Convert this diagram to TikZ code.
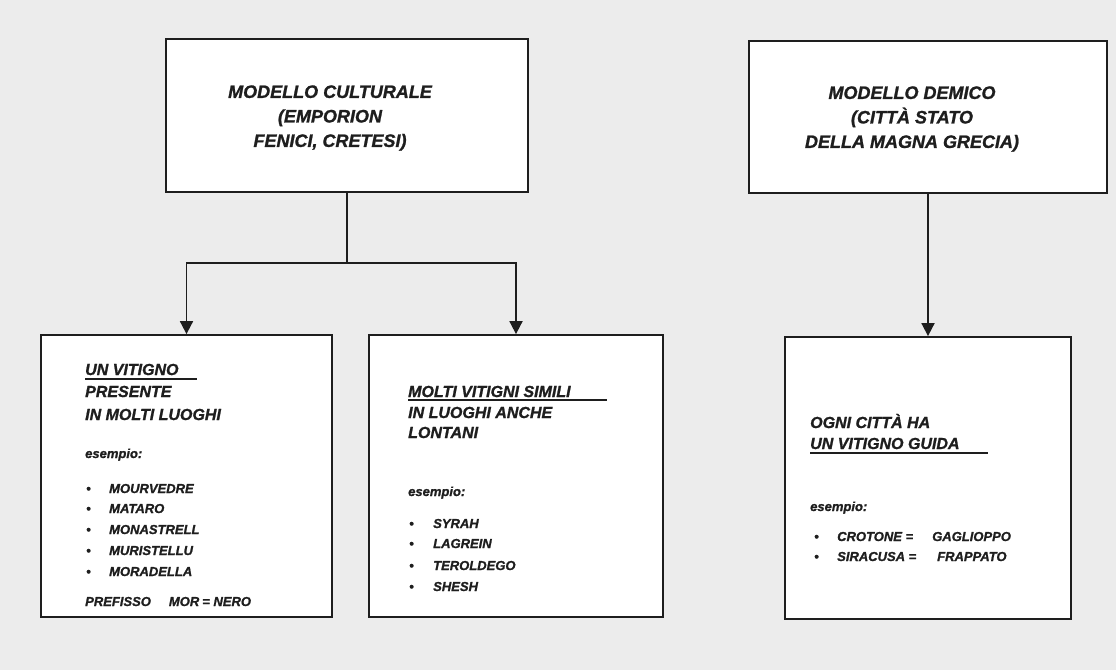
\documentclass[tikz,border=0pt]{standalone}
\usepackage{fontspec}
\setmainfont{Liberation Sans}
\newfontfamily\bifont{Liberation Sans}[UprightFont={* Bold Italic},FakeBold=1.2]
\usetikzlibrary{arrows.meta}
\definecolor{bg}{RGB}{236,236,236}
\definecolor{ink}{RGB}{30,30,30}
\begin{document}
\begin{tikzpicture}[x=1pt,y=-1pt,
 box/.style={draw=ink,line width=1.8pt,fill=white,inner sep=0pt},
 conn/.style={draw=ink,line width=1.8pt},
 arr/.style={conn,-{Triangle[width=13pt,length=13pt]}},
 ttl/.style={font=\bifont\fontsize{18}{24.5}\selectfont,align=center,text=ink,inner sep=0pt},
 hd/.style={font=\bifont\fontsize{16}{19}\selectfont,anchor=base west,inner sep=0pt,text=ink},
 ex/.style={font=\bifont\fontsize{13}{15}\selectfont,anchor=base west,inner sep=0pt,text=ink},
 bul/.style={font=\bifont\fontsize{13}{15}\selectfont,anchor=base west,inner sep=0pt,text=ink},
 ul/.style={draw=ink,line width=1.3pt}]
\fill[bg] (0,0) rectangle (1116,670);
\useasboundingbox (0,0) rectangle (1116,670);

% boxes
\node[box,minimum width=362pt,minimum height=153pt] (b1) at (347,115.5) {};
\node[box,minimum width=358pt,minimum height=152pt] (b2) at (928,117) {};
\node[box,minimum width=291pt,minimum height=282pt] (b3) at (186.5,476) {};
\node[box,minimum width=294pt,minimum height=282pt] (b4) at (516,476) {};
\node[box,minimum width=286pt,minimum height=282pt] (b5) at (928,478) {};

% titles
\node[ttl] (t1) at (330,118) {MODELLO CULTURALE\\(EMPORION\\FENICI, CRETESI)};
\node[ttl] (t2) at (912,119) {MODELLO DEMICO\\(CITTÀ STATO\\DELLA MAGNA GRECIA)};

% connectors
\coordinate (j1) at (347,263);
\draw[conn] (b1.south) -- (j1);
\draw[arr] (j1) -| (b3.north);
\draw[arr] (j1) -| (b4.north);
\draw[arr] (b2.south) -- (b5.north);

% box 3
\node[hd] (h31) at (85,375) {UN VITIGNO};
\draw[ul] (85,379) -- (197,379);
\node[hd] (h32) at (85,397) {PRESENTE};
\node[hd] (h33) at (85,420) {IN MOLTI LUOGHI};
\node[ex] (e3) at (85,458) {esempio:};
\foreach \t/\y [count=\i] in {MOURVEDRE/493,MATARO/513,MONASTRELL/534,MURISTELLU/555,MORADELLA/576}{
  \node[bul] (bu3\i) at (86,\y) {•};
  \node[ex] (i3\i) at (109,\y) {\t};
}
\node[ex] (p3) at (85,606) {PREFISSO\hspace{18pt}MOR\hspace{3pt}= NERO};

% box 4
\node[hd] (h41) at (408,397) {MOLTI VITIGNI SIMILI};
\draw[ul] (408,400) -- (607,400);
\node[hd] (h42) at (408,418) {IN LUOGHI ANCHE};
\node[hd] (h43) at (408,438) {LONTANI};
\node[ex] (e4) at (408,496) {esempio:};
\foreach \t/\y [count=\i] in {SYRAH/528,LAGREIN/548,TEROLDEGO/570,SHESH/591}{
  \node[bul] (bu4\i) at (409,\y) {•};
  \node[ex] (i4\i) at (433,\y) {\t};
}

% box 5
\node[hd] (h51) at (810,428) {OGNI CITTÀ HA};
\node[hd] (h52) at (810,449) {UN VITIGNO GUIDA};
\draw[ul] (810,453) -- (988,453);
\node[ex] (e5) at (810,511) {esempio:};
\node[bul] (bu51) at (814,541) {•};
\node[ex] (i51) at (837,541) {CROTONE =};
\node[ex] (g51) at (932,541) {GAGLIOPPO};
\node[bul] (bu52) at (814,561) {•};
\node[ex] (i52) at (837,561) {SIRACUSA =};
\node[ex] (g52) at (937,561) {FRAPPATO};
\end{tikzpicture}
\end{document}
